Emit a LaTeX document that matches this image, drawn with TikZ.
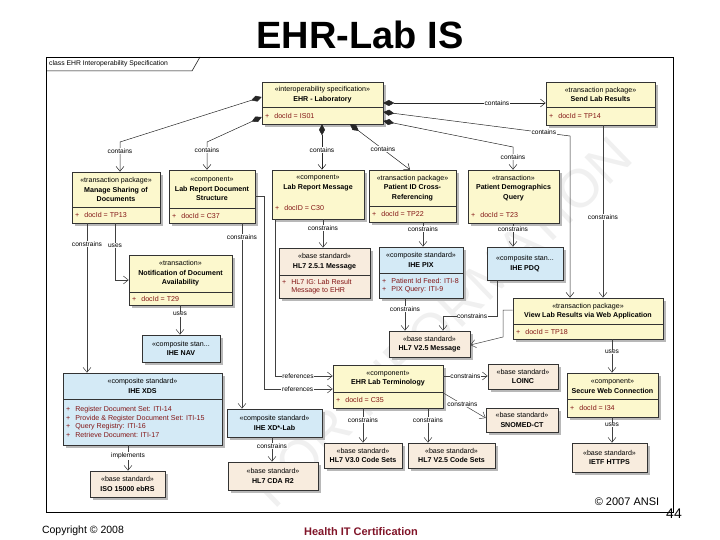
\documentclass[tikz,border=0pt]{standalone}
\usepackage{fontspec}
\setmainfont{Liberation Sans}
\usetikzlibrary{arrows.meta, calc, fit}
\definecolor{clsyellow}{RGB}{252,248,205}
\definecolor{clsblue}{RGB}{212,234,246}
\definecolor{clspeach}{RGB}{248,236,222}
\definecolor{attrred}{RGB}{130,20,20}
\definecolor{certred}{RGB}{128,20,40}

% class box: name, fill, top left, bottom right, divider y, divider style, header, attributes
\newcommand{\umlbox}[8]{%
  \coordinate (#1-tl) at (#3);
  \coordinate (#1-br) at (#4);
  \fill[boxshadow] ($(#1-tl)+(3,3)$) rectangle ($(#1-br)+(3,3)$);
  \node[umlcls, fill=#2, fit={(#1-tl) (#1-br)}] (#1) {};
  \draw[#6] (#1-tl |- 0,#5) -- (#1-br |- 0,#5);
  \node[hdr] at ($(#1-tl)!0.5!(#1-br |- 0,#5)$) {#7};
  \node[attr] at ($(#1-tl |- 0,#5)!0.5!(#1-tl |- #1-br)$) {#8};
}

\begin{document}
\begin{tikzpicture}[x=1pt, y=-1pt,
  >={Straight Barb[length=5pt,width=8pt]},
  umlcls/.style={draw=black!80, line width=0.6pt, inner sep=0pt},
  boxshadow/.style={fill=black!28},
  divline/.style={draw=black!80, line width=0.6pt},
  nodiv/.style={draw=none},
  hdr/.style={align=center, font=\fontsize{7.1}{9.6}\selectfont, inner sep=0pt},
  attr/.style={anchor=west, xshift=3pt, align=left, text=attrred, font=\fontsize{7.1}{8.6}\selectfont, inner sep=0pt},
  lbl/.style={fill=white, inner sep=0.6pt, font=\fontsize{6.6}{7}\selectfont},
  dep/.style={->, draw=black!75, line width=0.5pt},
  comp/.style={{Diamond[length=11pt,width=6pt]}->, draw=black!85, line width=0.5pt}]

\useasboundingbox (0,0) rectangle (720,540);

% watermark
\node[rotate=44, text=black!6, font=\fontsize{54}{54}\selectfont] (wmark) at (442,322) {FOR INFORMATION};

\node[font=\fontsize{38}{38}\selectfont\bfseries] (title) at (360,35) {EHR-Lab IS};

% frame
\draw[line width=0.6pt] (46,57) rectangle (673,512);
\draw[line width=0.5pt] (46,71) -- (192,71) -- (200,57);
\node[anchor=west, inner sep=0pt, font=\fontsize{6.8}{8}\selectfont] (frametitle) at (49,64) {class EHR Interoperability Specification};

% classes
\umlbox{ehr}{clsyellow}{262,82}{383,124}{107}{divline}{«interoperability specification»\\\textbf{EHR - Laboratory}}{+\hspace{5pt}docId = IS01}
\umlbox{sendlab}{clsyellow}{546,82}{655,125}{107}{divline}{«transaction package»\\\textbf{Send Lab Results}}{+\hspace{5pt}docId = TP14}
\umlbox{msd}{clsyellow}{72,172}{160,223}{207}{divline}{«transaction package»\\\textbf{Manage Sharing of}\\\textbf{Documents}}{+\hspace{5pt}docId = TP13}
\umlbox{lrds}{clsyellow}{169,170}{255,223}{208}{divline}{«component»\\\textbf{Lab Report Document}\\\textbf{Structure}}{+\hspace{5pt}docId = C37}
\umlbox{lrm}{clsyellow}{272,170}{364,219}{196}{nodiv}{«component»\\\textbf{Lab Report Message}}{+\hspace{5pt}docID = C30}
\umlbox{pixref}{clsyellow}{369,170}{456,222}{206}{divline}{«transaction package»\\\textbf{Patient ID Cross-}\\\textbf{Referencing}}{+\hspace{5pt}docId = TP22}
\umlbox{demoq}{clsyellow}{468,170}{559,223}{206}{nodiv}{«transaction»\\\textbf{Patient Demographics}\\\textbf{Query}}{+\hspace{5pt}docId = T23}
\umlbox{notif}{clsyellow}{129,255}{232,305}{292}{divline}{«transaction»\\\textbf{Notification of Document}\\\textbf{Availability}}{+\hspace{5pt}docId = T29}
\umlbox{hl7msg}{clspeach}{279,248}{370,298}{275}{divline}{«base standard»\\\textbf{HL7 2.5.1 Message}}{+\hspace{5pt}HL7 IG: Lab Result\\\phantom{+}\hspace{5pt}Message to EHR}
\umlbox{ihepix}{clsblue}{379,247}{463,298}{273}{divline}{«composite standard»\\\textbf{IHE PIX}}{+\hspace{5pt}Patient Id Feed: ITI-8\\+\hspace{5pt}PIX Query: ITI-9}
\umlbox{ihepdq}{clsblue}{487,247}{563,280}{280}{nodiv}{«composite stan...\\\textbf{IHE PDQ}}{}
\umlbox{ihenav}{clsblue}{142,335}{220,362}{362}{nodiv}{«composite stan...\\\textbf{IHE NAV}}{}
\umlbox{hl7v25}{clspeach}{389,331}{470,357}{357}{nodiv}{«base standard»\\\textbf{HL7 V2.5 Message}}{}
\umlbox{viewlab}{clsyellow}{513,298}{663,339}{324}{divline}{«transaction package»\\\textbf{View Lab Results via Web Application}}{+\hspace{5pt}docId = TP18}
\umlbox{ihexds}{clsblue}{63,373}{222,445}{399}{divline}{«composite standard»\\\textbf{IHE XDS}}{+\hspace{5pt}Register Document Set: ITI-14\\+\hspace{5pt}Provide \& Register Document Set: ITI-15\\+\hspace{5pt}Query Registry: ITI-16\\+\hspace{5pt}Retrieve Document: ITI-17}
\umlbox{ebrs}{clspeach}{90,471}{165,497}{497}{nodiv}{«base standard»\\\textbf{ISO 15000 ebRS}}{}
\umlbox{xdlab}{clsblue}{227,409}{322,437}{437}{nodiv}{«composite standard»\\\textbf{IHE XD*-Lab}}{}
\umlbox{cda}{clspeach}{228,462}{318,490}{490}{nodiv}{«base standard»\\\textbf{HL7 CDA R2}}{}
\umlbox{term}{clsyellow}{333,365}{443,408}{392}{divline}{«component»\\\textbf{EHR Lab Terminology}}{+\hspace{5pt}docId = C35}
\umlbox{v3codes}{clspeach}{324,443}{402,468}{468}{nodiv}{«base standard»\\\textbf{HL7 V3.0 Code Sets}}{}
\umlbox{v25codes}{clspeach}{408,443}{495,468}{468}{nodiv}{«base standard»\\\textbf{HL7 V2.5 Code Sets}}{}
\umlbox{loinc}{clspeach}{488,364}{558,389}{389}{nodiv}{«base standard»\\\textbf{LOINC}}{}
\umlbox{snomed}{clspeach}{486,408}{558,432}{432}{nodiv}{«base standard»\\\textbf{SNOMED-CT}}{}
\umlbox{secweb}{clsyellow}{567,373}{658,417}{399}{divline}{«component»\\\textbf{Secure Web Connection}}{+\hspace{5pt}docId = I34}
\umlbox{https}{clspeach}{572,443}{647,472}{472}{nodiv}{«base standard»\\\textbf{IETF HTTPS}}{}

% composition
\draw[comp] (ehr.west |- 0,97) -- (120,142) -- node[lbl,pos=0.3]{contains} (msd.north -| 120,0);
\draw[comp] (ehr.west |- 0,117) -- (207,142) -- node[lbl,pos=0.3]{contains} (lrds.north -| 207,0);
\draw[comp] (ehr.south -| 322,0) -- node[lbl,pos=0.57]{contains} (lrm.north -| 322,0);
\draw[comp] (ehr.south -| 350,0) -- node[lbl,pos=0.55]{contains} (pixref.north -| 410,0);
\draw[comp] (ehr.east |- 0,103) -- node[lbl,pos=0.7]{contains} (sendlab.west |- 0,103);
\draw[comp] (ehr.east |- 0,112) -- node[lbl,pos=0.86]{contains} (570,136) -- (viewlab.north -| 570,0);
\draw[comp] (ehr.east |- 0,121) -- (513,147) -- node[lbl,pos=0.43]{contains} (demoq.north -| 513,0);

% dependencies
\draw[dep] (msd.south -| 87,0) -- node[lbl,pos=0.14]{constrains} (ihexds.north -| 87,0);
\draw[dep] (msd.south -| 115,0) -- node[lbl,pos=0.39]{uses} (115,280) -- (notif.west |- 0,280);
\draw[dep] (lrds.south -| 242,0) -- node[lbl,pos=0.075]{constrains} (xdlab.north -| 242,0);
\draw[dep] (lrds.east |- 0,196) -- (264,196) -- (264,389) -- node[lbl,pos=0.49]{references} (term.west |- 0,389);
\draw[dep] (lrm.south -| 275,0) -- (275,376) -- node[lbl,pos=0.4]{references} (term.west |- 0,376);
\draw[dep] (lrm.south -| 323,0) -- node[lbl,pos=0.31]{constrains} (hl7msg.north -| 323,0);
\draw[dep] (pixref.south -| 423,0) -- node[lbl,pos=0.28]{constrains} (ihepix.north -| 423,0);
\draw[dep] (demoq.south -| 513,0) -- node[lbl,pos=0.25]{constrains} (ihepdq.north -| 513,0);
\draw[dep] (ihepix.south -| 405,0) -- node[lbl,pos=0.33]{constrains} (hl7v25.north -| 405,0);
\draw[dep] (ihepdq.south -| 497,0) -- (497,316) -- node[lbl,pos=0.46]{constrains} (443,316) -- (hl7v25.north -| 443,0);
\draw[dep] (viewlab.west |- 0,310) -- (503,310) -- (503,337) -- (hl7v25.east |- 0,345);
\draw[dep] (sendlab.south -| 603,0) -- node[lbl,pos=0.53]{constrains} (viewlab.north -| 603,0);
\draw[dep] (viewlab.south -| 612,0) -- node[lbl,pos=0.38]{uses} (secweb.north -| 612,0);
\draw[dep] (secweb.south -| 612,0) -- node[lbl,pos=0.3]{uses} (https.north -| 612,0);
\draw[dep] (term.east |- 0,376) -- node[lbl,pos=0.5]{constrains} (loinc.west |- 0,376);
\draw[dep] (term.east |- 0,393) -- node[lbl,pos=0.45]{constrains} (snomed.west |- 0,418);
\draw[dep] (term.south -| 363,0) -- node[lbl,pos=0.34]{constrains} (v3codes.north -| 363,0);
\draw[dep] (term.south -| 428,0) -- node[lbl,pos=0.34]{constrains} (v25codes.north -| 428,0);
\draw[dep] (xdlab.south -| 272,0) -- node[lbl,pos=0.36]{constrains} (cda.north -| 272,0);
\draw[dep] (ihexds.south -| 128,0) -- node[lbl,pos=0.42]{implements} (ebrs.north -| 128,0);
\draw[dep] (notif.south -| 180,0) -- node[lbl,pos=0.3]{uses} (ihenav.north -| 180,0);

% footer
\node[font=\fontsize{11}{11}\selectfont] (ansi) at (627,502) {© 2007 ANSI};
\node[font=\fontsize{14}{14}\selectfont] (pageno) at (674,514) {44};
\node[font=\fontsize{10.5}{11}\selectfont] (copyr) at (83,531) {Copyright © 2008};
\node[font=\fontsize{11}{11}\selectfont\bfseries, text=certred] (cert) at (361,532) {Health IT Certification};

\end{tikzpicture}
\end{document}
